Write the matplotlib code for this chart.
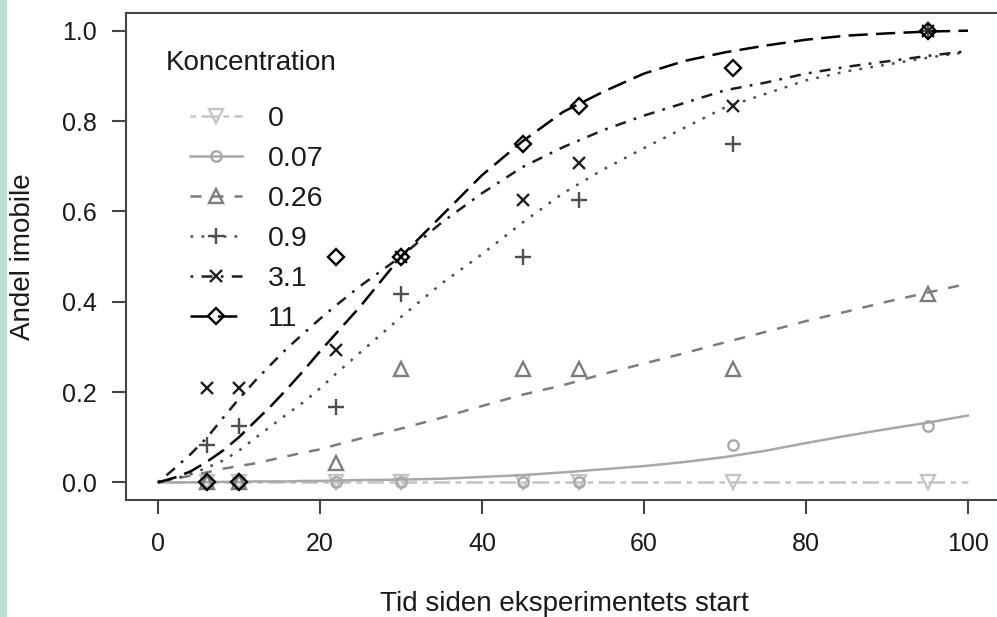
import matplotlib
matplotlib.use("Agg")
import matplotlib.pyplot as plt
from matplotlib.lines import Line2D
from matplotlib.patches import Rectangle

plt.rcParams['font.family'] = ['Liberation Sans', 'DejaVu Sans']

# Observations
times = [6, 10, 22, 30, 45, 52, 71, 95]
conc_labels = ['0', '0.07', '0.26', '0.9', '3.1', '11']
obs_0 = [0, 0, 0, 0, 0, 0, 0, 0]
obs_007 = [0, 0, 0, 0, 0, 0, 0.083, 0.125]
obs_026 = [0, 0, 0.042, 0.25, 0.25, 0.25, 0.25, 0.417]
obs_09 = [0.083, 0.125, 0.167, 0.417, 0.5, 0.625, 0.75, 1.0]
obs_31 = [0.208, 0.208, 0.292, 0.5, 0.625, 0.708, 0.833, 1.0]
obs_11 = [0, 0, 0.5, 0.5, 0.75, 0.833, 0.917, 1.0]

# Fitted curves
t_fit = [0, 2, 4, 6, 8, 10, 12, 14, 16, 18, 20, 22, 25, 30, 35, 40, 45, 50,
         55, 60, 65, 70, 75, 80, 85, 90, 95, 100]
fit_0 = [0.0, 0.0, 0.0, 0.0, 0.0, 0.0, 0.0, 0.0, 0.0, 0.0, 0.0, 0.0, 0.0, 0.0,
         0.0, 0.0, 0.0, 0.0, 0.0, 0.0, 0.0, 0.0, 0.0, 0.0, 0.0, 0.0, 0.0, 0.0]
fit_007 = [0, 0, 0, 0.001, 0.001, 0.001, 0.002, 0.002, 0.002, 0.003, 0.003,
           0.004, 0.005, 0.006, 0.008, 0.012, 0.016, 0.022, 0.029, 0.036,
           0.045, 0.056, 0.07, 0.087, 0.103, 0.118, 0.132, 0.148]
fit_026 = [0, 0.007, 0.015, 0.022, 0.03, 0.036, 0.042, 0.05, 0.058, 0.066,
           0.073, 0.083, 0.097, 0.119, 0.143, 0.169, 0.194, 0.215, 0.24,
           0.263, 0.286, 0.31, 0.333, 0.357, 0.378, 0.40, 0.42, 0.44]
fit_09 = [0, 0.008, 0.018, 0.032, 0.048, 0.07, 0.098, 0.125, 0.152, 0.178,
          0.208, 0.241, 0.288, 0.366, 0.44, 0.505, 0.575, 0.64, 0.693, 0.74,
          0.785, 0.83, 0.86, 0.89, 0.91, 0.925, 0.94, 0.953]
fit_31 = [0, 0.03, 0.062, 0.098, 0.142, 0.185, 0.225, 0.262, 0.298, 0.33,
          0.362, 0.392, 0.435, 0.5, 0.575, 0.64, 0.698, 0.742, 0.78, 0.812,
          0.84, 0.868, 0.885, 0.905, 0.92, 0.932, 0.944, 0.955]
fit_11 = [0, 0.01, 0.024, 0.045, 0.07, 0.10, 0.135, 0.17, 0.208, 0.248, 0.29,
          0.33, 0.39, 0.5, 0.59, 0.68, 0.755, 0.82, 0.865, 0.905, 0.933,
          0.952, 0.967, 0.98, 0.989, 0.994, 0.998, 1.0]

observed = [obs_0, obs_007, obs_026, obs_09, obs_31, obs_11]
fitted = [fit_0, fit_007, fit_026, fit_09, fit_31, fit_11]

# R-like styles: pch / lty per concentration
colors = ['#c4c4c4', '#a8a8a8', '#7c7c7c', '#4e4e4e', '#1e1e1e', '#000000']
markers = ['v', 'o', '^', '+', 'x', 'D']
msizes = [10, 7.5, 10, 11, 9, 8]
dashes = [(2.2, 2.2, 6.6, 2.2), (), (4.4, 4.4), (1.1, 3.3),
          (1.1, 3.3, 4.4, 3.3), (7.7, 3.3)]
lw = 1.8
mew = 1.7

fig = plt.figure(figsize=(9.97, 6.17), dpi=100)
fig.patches.append(Rectangle((0, 0), 7 / 997, 1, transform=fig.transFigure,
                             facecolor='#bee0d1', edgecolor='none', zorder=0))

ax = fig.add_axes([125.6 / 997, 116.6 / 617, 874.8 / 997, 487.8 / 617])

for obs, fit, c, m, ms, d in zip(observed, fitted, colors, markers, msizes, dashes):
    ln, = ax.plot(t_fit, fit, color=c, lw=lw)
    if d:
        ln.set_dashes(d)
    ax.plot(times, obs, linestyle='none', marker=m, ms=ms, mfc='none',
            mec=c, mew=mew)

ax.set_xlim(-4, 104)
ax.set_ylim(-0.04, 1.04)
ax.set_xticks([0, 20, 40, 60, 80, 100])
ax.set_yticks([0.0, 0.2, 0.4, 0.6, 0.8, 1.0])
ax.set_yticklabels(['0.0', '0.2', '0.4', '0.6', '0.8', '1.0'])

spine_col = '#444444'
for s in ax.spines.values():
    s.set_color(spine_col)
    s.set_linewidth(1.5)
ax.tick_params(direction='out', length=10, width=1.5, color=spine_col,
               labelsize=18, labelcolor='#1a1a1a')
ax.tick_params(axis='x', pad=12.5)
ax.tick_params(axis='y', pad=10.5)

fig.text(564 / 997, 1 - 611 / 617, 'Tid siden eksperimentets start',
         ha='center', va='baseline', fontsize=20, color='#1a1a1a')
fig.text(23 / 997, 1 - 256.5 / 617, 'Andel imobile', rotation=90,
         ha='center', va='center', fontsize=20, color='#1a1a1a')

# legend
handles = []
for c, m, ms, d in zip(colors, markers, msizes, dashes):
    h = Line2D([], [], color=c, lw=lw, marker=m, ms=ms, mfc='none',
               mec=c, mew=mew)
    if d:
        h.set_dashes(d)
    handles.append(h)
fig.text(166 / 997, 1 - 62.5 / 617, 'Koncentration', ha='left', va='center',
         fontsize=20, color='#1a1a1a')
ax.legend(handles, conc_labels, loc='upper left',
          bbox_to_anchor=(190 / 997, 1 - 106 / 617),
          bbox_transform=fig.transFigure, frameon=False, fontsize=20.5,
          handlelength=1.82, handletextpad=0.9, labelspacing=0.49,
          borderpad=0, borderaxespad=0, numpoints=1, labelcolor='#1a1a1a')

fig.savefig('out.png', dpi=100)
